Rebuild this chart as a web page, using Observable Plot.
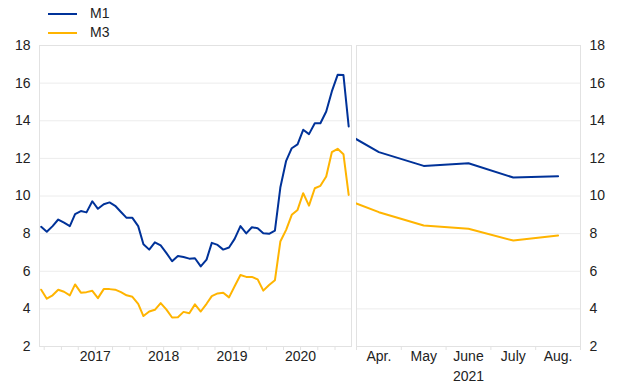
<!DOCTYPE html>
<html>
<head>
<meta charset="utf-8">
<script src="https://cdn.jsdelivr.net/npm/d3@7"></script>
<script src="https://cdn.jsdelivr.net/npm/@observablehq/plot@0.6"></script>
<style>
  html, body { margin: 0; padding: 0; background: #fff; }
  #chart { position: relative; width: 620px; height: 387px; font-family: "Liberation Sans", Arial, sans-serif; }
  #chart .panel { position: absolute; top: 0; }
  #legend { position: absolute; left: 0; top: 0; font-size: 14px; color: #222; }
  .legend-item { position: absolute; white-space: nowrap; }
  .legend-item span.sw { position: absolute; left: 48px; width: 29px; height: 2px; }
  .legend-item span.lb { position: absolute; left: 90px; top: -8px; }
</style>
</head>
<body>
<div id="chart"></div>
<script>
// ---- data ----
const seriesNames = ["M1", "M3"];
const seriesColors = ["#003299", "#FFB400"];

// Left panel: monthly, Sep 2016 – Mar 2021 (annual growth rates, %)
const leftStart = "2016-09";
const m1Left = [8.36, 8.10, 8.40, 8.75, 8.58, 8.40, 9.04, 9.20, 9.13, 9.72,
                9.32, 9.56, 9.66, 9.48, 9.15, 8.84, 8.84, 8.40, 7.44, 7.15,
                7.54, 7.37, 6.98, 6.53, 6.81, 6.76, 6.67, 6.69, 6.26, 6.62,
                7.51, 7.40, 7.15, 7.26, 7.72, 8.40, 8.01, 8.34, 8.29, 8.02,
                7.99, 8.16, 10.45, 11.87, 12.54, 12.74, 13.52, 13.29, 13.87, 13.87,
                14.49, 15.56, 16.44, 16.43, 13.70];
const m3Left = [5.02, 4.54, 4.72, 5.02, 4.91, 4.72, 5.30, 4.86, 4.89, 4.96,
                4.57, 5.05, 5.05, 5.02, 4.89, 4.72, 4.64, 4.27, 3.62, 3.86,
                3.95, 4.31, 3.97, 3.54, 3.56, 3.84, 3.77, 4.24, 3.86, 4.27,
                4.68, 4.82, 4.86, 4.61, 5.20, 5.80, 5.70, 5.70, 5.57, 4.97,
                5.27, 5.52, 7.58, 8.20, 9.00, 9.26, 10.15, 9.49, 10.41, 10.54,
                11.04, 12.33, 12.51, 12.22, 10.06];
const yearLabels = ["2017", "2018", "2019", "2020"];

// Right panel: Mar – Aug 2021
const rightMonths = ["Mar.", "Apr.", "May", "June", "July", "Aug."];
const rightYear = "2021";
const m1Right = [13.70, 12.33, 11.60, 11.74, 10.98, 11.05];
const m3Right = [10.06, 9.14, 8.43, 8.26, 7.63, 7.90];

const yTicks = [2, 4, 6, 8, 10, 12, 14, 16, 18];

// ---- build tables ----
const t0 = d3.utcParse("%Y-%m")(leftStart);
const leftData = [];
[m1Left, m3Left].forEach((vals, s) => vals.forEach((v, i) => {
  leftData.push({series: seriesNames[s], date: d3.utcDay.offset(d3.utcMonth.offset(t0, i), 14), value: v});
}));
const rightData = [];
[m1Right, m3Right].forEach((vals, s) => vals.forEach((v, i) => {
  rightData.push({series: seriesNames[s], idx: i, value: v});
}));

const H = 387;
const marginTop = 45, marginBottom = 41;
const textColor = "#222";
const gridColor = "#ececec";
const frameColor = "#e2e2e2";
const fontStyle = {fontFamily: "Liberation Sans, Arial, sans-serif", fontSize: "14px", color: textColor, background: "transparent", overflow: "visible"};

const colorScale = {domain: seriesNames, range: seriesColors};
const yScale = {domain: [2, 18], label: null};

// Left panel
const lastMonth = d3.utcMonth.offset(t0, m1Left.length - 1);
const xDomainLeft = [d3.utcDay.offset(t0, 5), d3.utcDay.offset(lastMonth, 29)];
const yearMids = yearLabels.map(y => new Date(Date.UTC(+y, 6, 1)));
const quarterTicks = d3.utcMonth.every(3).range(xDomainLeft[0], xDomainLeft[1]);

const left = Plot.plot({
  width: 360, height: H,
  marginLeft: 39, marginRight: 9, marginTop, marginBottom,
  style: fontStyle,
  x: {type: "utc", domain: xDomainLeft, label: null},
  y: yScale,
  color: colorScale,
  marks: [
    Plot.gridY(yTicks, {stroke: gridColor, strokeOpacity: 1}),
    Plot.frame({stroke: frameColor}),
    Plot.axisY(yTicks, {anchor: "left", tickSize: 0, tickPadding: 9, fill: textColor, fontSize: 14, label: null}),
    Plot.axisX(quarterTicks, {anchor: "bottom", tickSize: 4, stroke: frameColor, text: null, label: null}),
    Plot.axisX(yearMids, {anchor: "bottom", tickSize: 0, tickPadding: 5, tickFormat: d => d3.utcFormat("%Y")(d), fill: textColor, fontSize: 14, label: null}),
    Plot.line(leftData, {x: "date", y: "value", z: "series", stroke: "series", strokeWidth: 2})
  ]
});

// Right panel
const right = Plot.plot({
  width: 270, height: H,
  marginLeft: 6, marginRight: 40, marginTop, marginBottom,
  style: fontStyle,
  x: {type: "linear", domain: [0.5, rightMonths.length - 0.5], label: null},
  y: yScale,
  color: colorScale,
  marks: [
    Plot.gridY(yTicks, {stroke: gridColor, strokeOpacity: 1}),
    Plot.frame({stroke: frameColor}),
    Plot.axisY(yTicks, {anchor: "right", tickSize: 0, tickPadding: 9, fill: textColor, fontSize: 14, label: null}),
    Plot.axisX(d3.range(0.5, rightMonths.length, 1), {anchor: "bottom", tickSize: 4, stroke: frameColor, text: null, label: null}),
    Plot.axisX(d3.range(1, rightMonths.length), {anchor: "bottom", tickSize: 0, tickPadding: 5, tickFormat: i => rightMonths[i], fill: textColor, fontSize: 14, label: null}),
    Plot.text([rightYear], {x: [3], frameAnchor: "bottom", dy: 34, fill: textColor, fontSize: 14}),
    Plot.line(rightData, {x: "idx", y: "value", z: "series", stroke: "series", strokeWidth: 2, clip: true})
  ]
});

const chart = document.getElementById("chart");
left.classList.add("panel"); left.style.left = "0px";
right.classList.add("panel"); right.style.left = "350px";
chart.appendChild(left);
chart.appendChild(right);

// Legend
const legend = document.createElement("div");
legend.id = "legend";
seriesNames.forEach((name, i) => {
  const item = document.createElement("div");
  item.className = "legend-item";
  item.style.top = (13 + i * 19) + "px";
  item.innerHTML = `<span class="sw" style="background:${seriesColors[i]}"></span><span class="lb">${name}</span>`;
  legend.appendChild(item);
});
chart.appendChild(legend);
</script>
</body>
</html>
